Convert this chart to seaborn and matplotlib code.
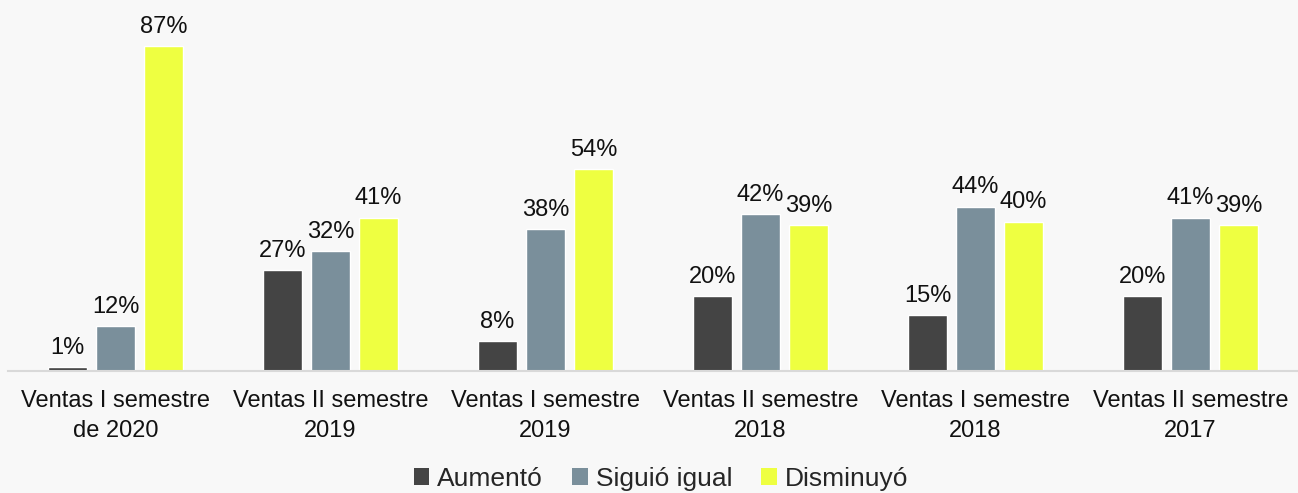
import pandas as pd
import matplotlib
matplotlib.use("Agg")
import matplotlib.pyplot as plt
import seaborn as sns
from matplotlib.patches import Patch

# Datos
periodos = [
    "Ventas I semestre\nde 2020",
    "Ventas II semestre\n2019",
    "Ventas I semestre\n2019",
    "Ventas II semestre\n2018",
    "Ventas I semestre\n2018",
    "Ventas II semestre\n2017",
]
series = ["Aumentó", "Siguió igual", "Disminuyó"]
aumento = [1, 27, 8, 20, 15, 20]
igual = [12, 32, 38, 42, 44, 41]
disminuyo = [87, 41, 54, 39, 40, 39]
colores = ["#444444", "#7a8f9b", "#eeff41"]

rows = []
for serie, vals in zip(series, [aumento, igual, disminuyo]):
    for p, v in zip(periodos, vals):
        rows.append({"Periodo": p, "Serie": serie, "Valor": v})
df = pd.DataFrame(rows)

sns.set_style("white")
plt.rcParams["font.family"] = ["Liberation Sans", "DejaVu Sans"]

fig = plt.figure(figsize=(12.98, 4.93), dpi=100, facecolor="#f8f8f8")
ax = fig.add_axes([8 / 1298, 122 / 493, 1290 / 1298, 371 / 493])
ax.set_facecolor("#f8f8f8")

sns.barplot(data=df, x="Periodo", y="Valor", hue="Serie",
            hue_order=series, palette=colores, width=0.67, gap=0.2,
            saturation=1, ax=ax, legend=False)

for container in ax.containers:
    ax.bar_label(container, fmt="%d%%", padding=6, fontsize=17, color="#111111")

ax.set_ylim(0, 99.3)
ax.set_xlim(-0.5, 5.5)
ax.set_yticks([])
ax.set_xlabel("")
ax.set_ylabel("")
for s in ["top", "right", "left"]:
    ax.spines[s].set_visible(False)
ax.spines["bottom"].set_color("#d9d9d9")
ax.spines["bottom"].set_linewidth(1.5)
ax.tick_params(axis="x", length=0, pad=14)
for lab in ax.get_xticklabels():
    lab.set_fontsize(17)
    lab.set_color("#111111")
    lab.set_linespacing(1.45)

handles = [Patch(facecolor=c, edgecolor="none", label=s) for s, c in zip(series, colores)]
fig.legend(handles=handles, loc="center", bbox_to_anchor=(661 / 1298, 14 / 493), ncol=3,
           frameon=False, fontsize=19, handlelength=0.6, handleheight=0.6,
           handletextpad=0.3, columnspacing=1.1)

fig.savefig("out.png", dpi=100, facecolor=fig.get_facecolor())
